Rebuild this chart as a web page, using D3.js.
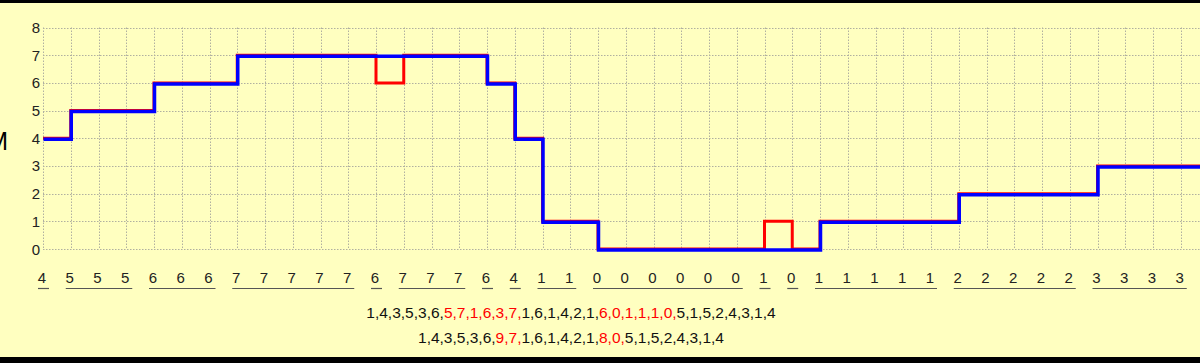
<!DOCTYPE html>
<html>
<head>
<meta charset="utf-8">
<script src="https://cdn.jsdelivr.net/npm/d3@7"></script>
<style>
  html, body { margin: 0; padding: 0; background: #ffffc0; }
  svg { display: block; font-family: "Liberation Sans", Arial, sans-serif; }
</style>
</head>
<body>
<div id="chart"></div>
<script>
// step values, one per column (red = first sequence, blue = second)
const redValues  = [4,5,5,5,6,6,6,7,7,7,7,7,6,7,7,7,6,4,1,1,0,0,0,0,0,0,1,0,1,1,1,1,1,2,2,2,2,2,3,3,3,3,3];
const blueValues = [4,5,5,5,6,6,6,7,7,7,7,7,7,7,7,7,6,4,1,1,0,0,0,0,0,0,0,0,1,1,1,1,1,2,2,2,2,2,3,3,3,3,3];
const yTicks = [0,1,2,3,4,5,6,7,8];

// the two sequences printed under the chart, split into black/red parts
const line1 = [
  ["1,4,3,5,3,6,", "black"], ["5,7,1,6,3,7,", "red"],
  ["1,6,1,4,2,1,", "black"], ["6,0,1,1,1,0,", "red"],
  ["5,1,5,2,4,3,1,4", "black"]
];
const line2 = [
  ["1,4,3,5,3,6,", "black"], ["9,7,", "red"],
  ["1,6,1,4,2,1,", "black"], ["8,0,", "red"],
  ["5,1,5,2,4,3,1,4", "black"]
];

const width = 1200, height = 363;
const svg = d3.select("#chart").append("svg")
  .attr("width", width).attr("height", height);

svg.append("rect").attr("width", width).attr("height", height).attr("fill", "#ffffc0");

const x = d3.scaleLinear().domain([0, 41]).range([43, 1180.75]);
const y = d3.scaleLinear().domain([0, 8]).range([249, 27.5]);

// --- grid ---
const grid = svg.append("g").attr("stroke", "#b0b0a0").attr("stroke-width", 1)
  .attr("stroke-dasharray", "1.5,1.5");
grid.selectAll("line.h").data(yTicks).join("line")
  .attr("x1", x(0)).attr("x2", width)
  .attr("y1", d => Math.round(y(d)) + 0.5).attr("y2", d => Math.round(y(d)) + 0.5);
grid.selectAll("line.v").data(d3.range(0, 42)).join("line")
  .attr("x1", d => Math.round(x(d)) + 0.5).attr("x2", d => Math.round(x(d)) + 0.5)
  .attr("y1", y(8)).attr("y2", y(0));

// --- y tick labels ---
svg.append("g").selectAll("text").data(yTicks).join("text")
  .attr("x", 40).attr("y", d => y(d) + 5.5)
  .attr("text-anchor", "end").attr("font-size", 15).attr("fill", "#222")
  .text(d => d);

// cut-off axis title on the left edge
svg.append("text").attr("x", 8).attr("y", 150).attr("text-anchor", "end")
  .attr("font-size", 25).attr("fill", "#000").text("M");

// --- step lines ---
const stepLine = d3.line().curve(d3.curveStepAfter)
  .x((d, i) => x(i)).y(d => y(d));
const ext = arr => arr.concat([arr[arr.length - 1]]);

svg.append("path").datum(ext(redValues))
  .attr("d", stepLine).attr("fill", "none")
  .attr("stroke", "#ff0000").attr("stroke-width", 3);
svg.append("path").datum(ext(blueValues))
  .attr("d", stepLine).attr("fill", "none")
  .attr("transform", "translate(0.5,1)")
  .attr("stroke", "#0000ff").attr("stroke-width", 3.5);

// --- bottom labels with underlined runs ---
svg.append("g").selectAll("text").data(redValues.slice(0, 42)).join("text")
  .attr("x", (d, i) => x(i) - 1).attr("y", 283)
  .attr("text-anchor", "middle").attr("font-size", 15).attr("fill", "#222")
  .text(d => d);

const runs = [];
redValues.slice(0, 42).forEach((v, i) => {
  const last = runs[runs.length - 1];
  if (last && last.v === v) last.end = i;
  else runs.push({ v, start: i, end: i });
});
svg.append("g").selectAll("line").data(runs).join("line")
  .attr("x1", d => x(d.start) - 5).attr("x2", d => x(d.end) + 6)
  .attr("y1", 288.5).attr("y2", 288.5)
  .attr("stroke", "#555").attr("stroke-width", 1.2);

// --- sequences ---
[[line1, 318], [line2, 343]].forEach(([parts, yy]) => {
  const t = svg.append("text").attr("x", 571).attr("y", yy)
    .attr("text-anchor", "middle").attr("font-size", 15.5);
  parts.forEach(([s, c]) => t.append("tspan").attr("fill", c === "red" ? "#ff0000" : "#111").text(s));
});

// --- black frame bars ---
svg.append("rect").attr("x", 0).attr("y", 0).attr("width", width).attr("height", 3).attr("fill", "#000");
svg.append("rect").attr("x", 0).attr("y", 357).attr("width", width).attr("height", 6).attr("fill", "#000");
</script>
</body>
</html>
